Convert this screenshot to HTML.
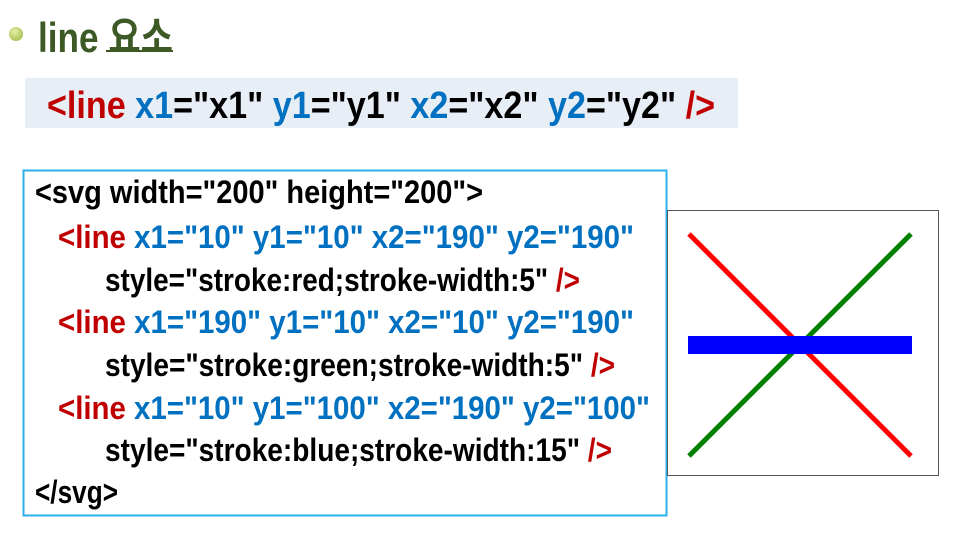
<!DOCTYPE html>
<html><head><meta charset="utf-8"><style>
html,body{margin:0;padding:0;background:#fff;width:955px;height:560px;overflow:hidden}
svg{display:block}
text{font-family:"Liberation Sans","Noto Sans CJK KR",sans-serif;font-weight:bold}
.r{fill:#c00000}.b{fill:#0070c0}.k{fill:#000}
</style></head><body>
<svg width="955" height="560" viewBox="0 0 955 560" xmlns="http://www.w3.org/2000/svg">
<defs><radialGradient id="g" cx="0.4" cy="0.35" r="0.7"><stop offset="0" stop-color="#e4efa8"/><stop offset="1" stop-color="#a8c050"/></radialGradient></defs>
<circle cx="16" cy="34" r="7" fill="url(#g)"/>
<text x="38" y="52" font-size="42" fill="#3d5a26" textLength="135" lengthAdjust="spacingAndGlyphs">line 요소</text>
<rect x="106" y="50" width="67" height="2" fill="#3d5a26"/>
<rect x="25" y="78" width="713" height="50" fill="#e8eef6"/>
<text x="47" y="118" font-size="38" textLength="668" lengthAdjust="spacingAndGlyphs"><tspan class="r">&lt;line </tspan><tspan class="b"> x1</tspan><tspan class="k">="x1" </tspan><tspan class="b">y1</tspan><tspan class="k">="y1" </tspan><tspan class="b">x2</tspan><tspan class="k">="x2" </tspan><tspan class="b">y2</tspan><tspan class="k">="y2" </tspan><tspan class="r">/&gt;</tspan></text>
<rect x="23.5" y="170.5" width="643" height="345" fill="#fff" stroke="#29b0ee" stroke-width="2"/>
<g font-size="32">
<text x="35" y="203" class="k" textLength="448" lengthAdjust="spacingAndGlyphs">&lt;svg width="200" height="200"&gt;</text>
<text x="58" y="248" textLength="576" lengthAdjust="spacingAndGlyphs"><tspan class="r">&lt;line</tspan><tspan class="b"> x1="10" y1="10" x2="190" y2="190"</tspan></text>
<text x="105" y="291" textLength="475" lengthAdjust="spacingAndGlyphs"><tspan class="k">style="stroke:red;stroke-width:5" </tspan><tspan class="r">/&gt;</tspan></text>
<text x="58" y="333" textLength="576" lengthAdjust="spacingAndGlyphs"><tspan class="r">&lt;line</tspan><tspan class="b"> x1="190" y1="10" x2="10" y2="190"</tspan></text>
<text x="105" y="376" textLength="510" lengthAdjust="spacingAndGlyphs"><tspan class="k">style="stroke:green;stroke-width:5" </tspan><tspan class="r">/&gt;</tspan></text>
<text x="58" y="419" textLength="592" lengthAdjust="spacingAndGlyphs"><tspan class="r">&lt;line</tspan><tspan class="b"> x1="10" y1="100" x2="190" y2="100"</tspan></text>
<text x="105" y="461" textLength="507" lengthAdjust="spacingAndGlyphs"><tspan class="k">style="stroke:blue;stroke-width:15" </tspan><tspan class="r">/&gt;</tspan></text>
<text x="35" y="503" class="k" textLength="83" lengthAdjust="spacingAndGlyphs">&lt;/svg&gt;</text>
</g>
<rect x="667.5" y="210.5" width="271" height="265" fill="#fff" stroke="#555" stroke-width="1"/>
<line x1="689" y1="234" x2="911" y2="456" stroke="red" stroke-width="5"/>
<line x1="911" y1="234" x2="689" y2="456" stroke="green" stroke-width="5"/>
<rect x="688" y="336" width="224" height="18" fill="blue"/>
</svg>
</body></html>
